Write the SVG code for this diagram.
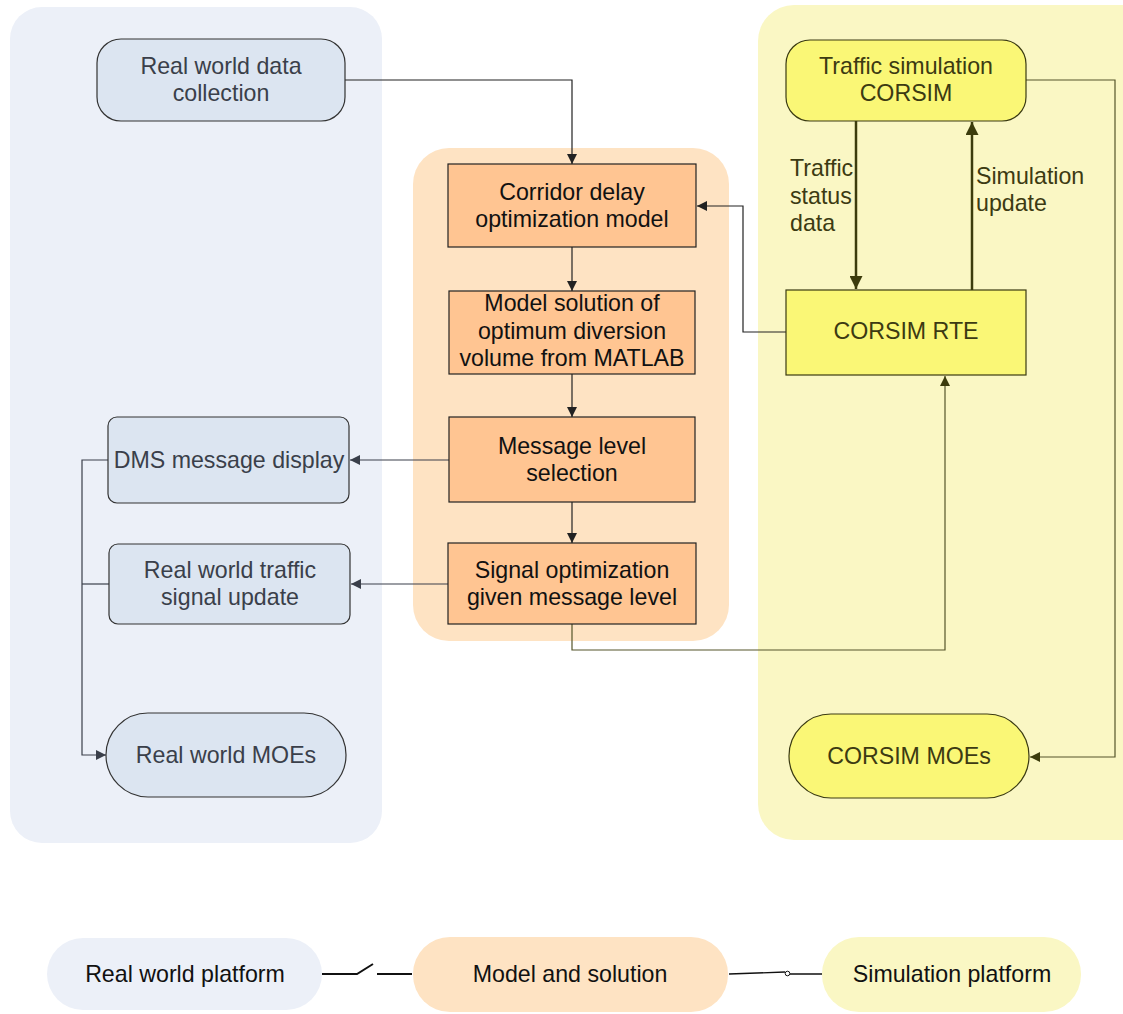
<svg xmlns="http://www.w3.org/2000/svg" width="1123" height="1014" viewBox="0 0 1123 1014">
<defs>
<style>
text{font-family:"Liberation Sans",Arial,sans-serif;font-size:23.2px;text-anchor:middle}
.lt{text-anchor:start}
.tb{fill:#3a3f4a}
.to{fill:#111}
.ty{fill:#3c3a12}
.nb{fill:#dce5f1;stroke:#333;stroke-width:1.2}
.no{fill:#ffc592;stroke:#222;stroke-width:1.2}
.ny{fill:#faf776;stroke:#3a3a12;stroke-width:1.2}
.c{fill:none;stroke:#222;stroke-width:1.2}
.cb{fill:none;stroke:#3a3f4a;stroke-width:1.2}
.cy{fill:none;stroke:#55552a;stroke-width:1.2}
.cyt{fill:none;stroke:#3c3c0c;stroke-width:2.5}
</style>
<marker id="ab" viewBox="0 0 10 10" refX="10" refY="5" markerWidth="12" markerHeight="10" markerUnits="userSpaceOnUse" orient="auto"><path d="M0,0L10,5L0,10z" fill="#222"/></marker>
<marker id="abb" viewBox="0 0 10 10" refX="10" refY="5" markerWidth="14" markerHeight="10" markerUnits="userSpaceOnUse" orient="auto"><path d="M0,0L10,5L0,10z" fill="#3a3f4a"/></marker>
<marker id="aby" viewBox="0 0 10 10" refX="10" refY="5" markerWidth="13" markerHeight="10" markerUnits="userSpaceOnUse" orient="auto"><path d="M0,0L10,5L0,10z" fill="#3c3c0c"/></marker>
<marker id="abt" viewBox="0 0 10 10" refX="10" refY="5" markerWidth="16" markerHeight="13" markerUnits="userSpaceOnUse" orient="auto"><path d="M0,0L10,5L0,10z" fill="#3c3c0c"/></marker>
</defs>
<rect width="1123" height="1014" fill="#fff"/>
<g id="panels">
<rect x="10" y="7" width="372" height="836" rx="32" fill="#ecf0f8"/>
<rect x="413" y="148" width="316" height="493" rx="36" fill="#fee3c3"/>
<rect x="758" y="5" width="400" height="835" rx="36" fill="#faf7c4"/>
</g>
<g id="connectors">
<path class="c" d="M345,80H572V164" marker-end="url(#ab)"/>
<path class="c" d="M572,247V291" marker-end="url(#ab)"/>
<path class="c" d="M572,374V417" marker-end="url(#ab)"/>
<path class="c" d="M572,502V543" marker-end="url(#ab)"/>
<path class="cb" d="M449,460H350" marker-end="url(#abb)"/>
<path class="cb" d="M448,584H351" marker-end="url(#abb)"/>
<path class="cb" d="M108,460H82V755H106" marker-end="url(#abb)"/>
<path class="cb" d="M109,584H82"/>
<path class="cy" d="M572,624V650H945V376" marker-end="url(#aby)"/>
<path class="c" d="M786,332H743V206H697" marker-end="url(#ab)"/>
<path class="cy" d="M1026,80H1115V757H1030" marker-end="url(#aby)"/>
<path class="cyt" d="M856,121V289" marker-end="url(#abt)"/>
<path class="cyt" d="M972,290V122" marker-end="url(#abt)"/>
</g>
<g id="n-rwdc"><rect class="nb" x="97" y="39" width="248" height="82" rx="24"/><text class="tb" x="221" y="74">Real world data</text><text class="tb" x="221" y="101">collection</text></g>
<g id="n-tsc"><rect class="ny" x="786" y="40" width="240" height="81" rx="24"/><text class="ty" x="906" y="74">Traffic simulation</text><text class="ty" x="906" y="101">CORSIM</text></g>
<g id="n-cdom"><rect class="no" x="448" y="164" width="248" height="83"/><text class="to" x="572" y="200">Corridor delay</text><text class="to" x="572" y="227">optimization model</text></g>
<g id="n-ms"><rect class="no" x="449" y="291" width="246" height="83"/><text class="to" x="572" y="311">Model solution of</text><text class="to" x="572" y="339">optimum diversion</text><text class="to" x="572" y="366">volume from MATLAB</text></g>
<g id="n-mls"><rect class="no" x="449" y="417" width="246" height="85"/><text class="to" x="572" y="454">Message level</text><text class="to" x="572" y="481">selection</text></g>
<g id="n-so"><rect class="no" x="448" y="543" width="248" height="81"/><text class="to" x="572" y="578">Signal optimization</text><text class="to" x="572" y="605">given message level</text></g>
<g id="n-rte"><rect class="ny" x="786" y="290" width="240" height="85"/><text class="ty" x="906" y="339">CORSIM RTE</text></g>
<g id="n-dms"><rect class="nb" x="108" y="417" width="241" height="86" rx="9"/><text class="tb" x="229" y="468">DMS message display</text></g>
<g id="n-rwts"><rect class="nb" x="109" y="544" width="241" height="80" rx="9"/><text class="tb" x="230" y="578">Real world traffic</text><text class="tb" x="230" y="605">signal update</text></g>
<g id="n-rwmoe"><rect class="nb" x="106" y="713" width="240" height="84" rx="42"/><text class="tb" x="226" y="763">Real world MOEs</text></g>
<g id="n-cmoe"><rect class="ny" x="789" y="714" width="240" height="84" rx="42"/><text class="ty" x="909" y="764">CORSIM MOEs</text></g>
<g id="labels">
<text class="ty lt" x="790" y="176">Traffic</text><text class="ty lt" x="790" y="204">status</text><text class="ty lt" x="790" y="231">data</text>
<text class="ty lt" x="976" y="184">Simulation</text><text class="ty lt" x="976" y="211">update</text>
</g>
<g id="legend">
<rect x="47" y="938" width="275" height="72" rx="36" fill="#ecf0f8"/>
<text x="185" y="982" fill="#111">Real world platform</text>
<rect x="413" y="937" width="315" height="75" rx="37" fill="#fee3c3"/>
<text x="570" y="982" fill="#111">Model and solution</text>
<rect x="822" y="937" width="259" height="75" rx="37" fill="#faf7c4"/>
<text x="952" y="982" fill="#111">Simulation platform</text>
<path d="M322,974H357L373,964M377,974H412" fill="none" stroke="#111" stroke-width="2"/>
<path d="M729,974L785,972M790,974H822" fill="none" stroke="#111" stroke-width="1.3"/>
<circle cx="787.5" cy="973.5" r="2.3" fill="#fff" stroke="#111" stroke-width="1"/>
</g>
</svg>
